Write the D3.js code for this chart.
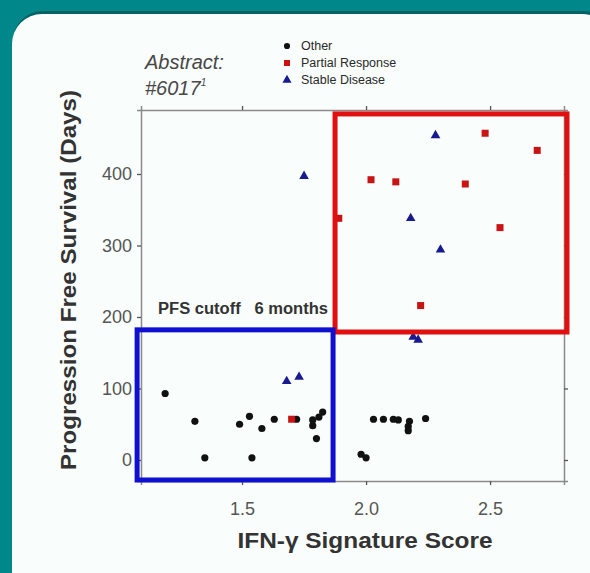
<!DOCTYPE html>
<html>
<head>
<meta charset="utf-8">
<script src="https://cdn.jsdelivr.net/npm/d3@7"></script>
<style>
  html, body { margin: 0; padding: 0; background: #00878a; }
  svg { display: block; font-family: "Liberation Sans", Arial, sans-serif; }
</style>
</head>
<body>
<div id="chart"></div>
<script>
const width = 590;
const height = 573;

// IFN-gamma score vs PFS (days)
const otherX = [1.19, 1.31, 1.35, 1.49, 1.53, 1.54, 1.58, 1.63, 1.72, 1.785, 1.785, 1.80, 1.81, 1.825,
                1.98, 2.00, 2.03, 2.07, 2.11, 2.13, 2.175, 2.17, 2.17, 2.24];
const otherY = [93, 54, 3, 50, 61, 3, 44, 57, 57, 56, 48, 30, 60, 67,
                8, 3, 57, 57, 57, 56, 54, 47, 41, 58];
const prX = [1.70, 1.89, 2.02, 2.12, 2.22, 2.40, 2.48, 2.54, 2.69];
const prY = [57, 338, 392, 389, 216, 386, 457, 325, 433];
const sdX = [1.68, 1.73, 1.75, 2.18, 2.19, 2.21, 2.28, 2.30];
const sdY = [110, 116, 397, 338, 172, 168, 454, 294];

const xTicks = [1.5, 2.0, 2.5];
const yTicks = [0, 100, 200, 300, 400];

// highlight boxes in data units: [x0, x1, y0, y1]
const redBox = [1.875, 2.81, 179, 484];
const blueBox = [1.077, 1.867, -28, 182];

const legendItems = ["Other", "Partial Response", "Stable Disease"];

const svg = d3.select("#chart").append("svg")
    .attr("width", width)
    .attr("height", height);

// teal backdrop + white rounded panel
svg.append("rect").attr("width", width).attr("height", height).attr("fill", "#00878a");
svg.append("rect")
    .attr("x", 13).attr("y", 11).attr("width", 600).attr("height", 600)
    .attr("rx", 30).attr("fill", "#06484b").attr("opacity", 0.6);
svg.append("rect")
    .attr("x", 12).attr("y", 14).attr("width", 600).attr("height", 600)
    .attr("rx", 30).attr("fill", "#f9fdfb");

const x = d3.scaleLinear().domain([1.0927, 2.798]).range([141, 564]);
const y = d3.scaleLinear().domain([-29.4, 489.5]).range([481, 110]);

// frame with ticks on every side
const axisColor = "#8a8a8a";
svg.append("g").attr("transform", "translate(0,481)")
    .call(d3.axisBottom(x).tickValues(xTicks).tickFormat(d3.format(".1f")).tickSize(4).tickPadding(17));
svg.append("g").attr("transform", "translate(141,0)")
    .call(d3.axisLeft(y).tickValues(yTicks).tickSize(4).tickPadding(5));
svg.append("g").attr("transform", "translate(0,110)")
    .call(d3.axisTop(x).tickValues(xTicks).tickFormat("").tickSize(4));
svg.append("g").attr("transform", "translate(564,0)")
    .call(d3.axisRight(y).tickValues(yTicks).tickFormat("").tickSize(4));

svg.selectAll(".domain").attr("stroke", axisColor).attr("stroke-width", 1.5);
svg.selectAll(".tick line").attr("stroke", "#555").attr("stroke-width", 1.3);
svg.selectAll(".tick text")
    .attr("fill", "#555")
    .style("font-size", "18px");

// axis titles
svg.append("text")
    .attr("transform", "translate(76,280) rotate(-90)")
    .attr("text-anchor", "middle")
    .attr("fill", "#333")
    .attr("textLength", 380)
    .attr("lengthAdjust", "spacingAndGlyphs")
    .style("font-size", "22px")
    .style("font-weight", "bold")
    .text("Progression Free Survival (Days)");

svg.append("text")
    .attr("x", 365).attr("y", 548)
    .attr("text-anchor", "middle")
    .attr("fill", "#333")
    .attr("textLength", 255)
    .attr("lengthAdjust", "spacingAndGlyphs")
    .style("font-size", "22px")
    .style("font-weight", "bold")
    .text("IFN-γ Signature Score");

// abstract note
const note = svg.append("g").attr("fill", "#474747")
    .style("font-size", "20px").style("font-style", "italic");
note.append("text").attr("x", 145).attr("y", 69).text("Abstract:");
const t2 = note.append("text").attr("x", 145).attr("y", 95).text("#6017");
t2.append("tspan").attr("dy", -9).style("font-size", "10px").text("1");

// legend
const legend = svg.selectAll(".legend")
    .data(legendItems)
    .enter().append("g")
    .attr("class", "legend")
    .attr("transform", (d, i) => `translate(287,${46 + i * 17})`);

legend.append("path")
    .attr("d", (d, i) => d3.symbol().type([d3.symbolCircle, d3.symbolSquare, d3.symbolTriangle][i]).size([30, 36, 36][i])())
    .attr("fill", (d, i) => ["#111", "#cc1111", "#1a1a90"][i]);

legend.append("text")
    .attr("x", 14)
    .attr("dy", "0.35em")
    .attr("fill", "#2a2a2a")
    .style("font-size", "12.5px")
    .text(d => d);

// points
svg.append("g").selectAll("circle")
    .data(otherX.map((v, i) => [v, otherY[i]]))
    .enter().append("circle")
    .attr("cx", d => x(d[0]))
    .attr("cy", d => y(d[1]))
    .attr("r", 3.6)
    .attr("fill", "#111");

svg.append("g").selectAll("rect")
    .data(prX.map((v, i) => [v, prY[i]]))
    .enter().append("rect")
    .attr("x", d => x(d[0]) - 3.5)
    .attr("y", d => y(d[1]) - 3.5)
    .attr("width", 7).attr("height", 7)
    .attr("fill", "#c81414");

svg.append("g").selectAll("path")
    .data(sdX.map((v, i) => [v, sdY[i]]))
    .enter().append("path")
    .attr("transform", d => `translate(${x(d[0])},${y(d[1])})`)
    .attr("d", d3.symbol().type(d3.symbolTriangle).size(40))
    .attr("fill", "#1a1a90");

// cutoff boxes
const boxes = [[redBox, "#e01010"], [blueBox, "#1010d0"]];
svg.append("g").selectAll("rect")
    .data(boxes)
    .enter().append("rect")
    .attr("x", d => x(d[0][0]))
    .attr("y", d => y(d[0][3]))
    .attr("width", d => x(d[0][1]) - x(d[0][0]))
    .attr("height", d => y(d[0][2]) - y(d[0][3]))
    .attr("fill", "none")
    .attr("stroke", d => d[1])
    .attr("stroke-width", 5);

svg.append("text")
    .attr("x", 158).attr("y", 314)
    .attr("fill", "#333")
    .attr("xml:space", "preserve")
    .attr("textLength", 170)
    .attr("lengthAdjust", "spacingAndGlyphs")
    .style("white-space", "pre")
    .style("font-size", "16px")
    .style("font-weight", "bold")
    .text("PFS cutoff   6 months");
</script>
</body>
</html>
